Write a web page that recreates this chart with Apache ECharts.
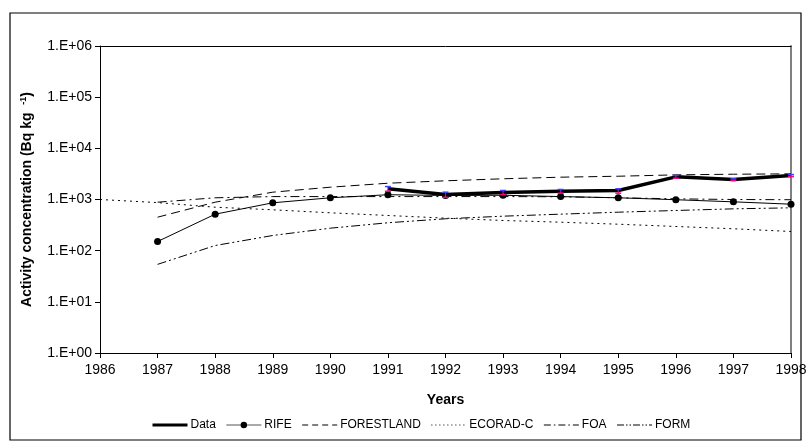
<!DOCTYPE html>
<html>
<head>
<meta charset="utf-8">
<script src="https://cdn.jsdelivr.net/npm/echarts@6/dist/echarts.min.js"></script>
<style>
  html, body { margin: 0; padding: 0; background: #fff; }
  #chart { width: 811px; height: 448px; }
</style>
</head>
<body>
<div id="chart"></div>
<script>
// Years on the horizontal axis
const years = [1986, 1987, 1988, 1989, 1990, 1991, 1992, 1993, 1994, 1995, 1996, 1997, 1998];

// Measured activity (1991-1998) with upper / lower error limits
const dataYears = [1991, 1992, 1993, 1994, 1995, 1996, 1997, 1998];
const dataValues = [1620, 1250, 1370, 1450, 1500, 2770, 2450, 2950];
const dataHigh = [1790, 1390, 1500, 1570, 1620, 2950, 2540, 3070];
const dataLow = [1450, 1100, 1250, 1330, 1330, 2600, 2350, 2810];

// Model predictions
const modelYears = [1987, 1988, 1989, 1990, 1991, 1992, 1993, 1994, 1995, 1996, 1997, 1998];
const rifeValues = [151, 516, 862, 1080, 1240, 1200, 1210, 1140, 1080, 990, 900, 810];
const forestlandValues = [451, 886, 1390, 1740, 2080, 2320, 2540, 2730, 2850, 3030, 3120, 3170];
const ecoradYears = [1986, 1987, 1988, 1989, 1990, 1991, 1992, 1993, 1994, 1995, 1996, 1997, 1998];
const ecoradValues = [1000, 870, 707, 629, 550, 487, 432, 389, 360, 329, 297, 268, 237];
const foaValues = [886, 1080, 1140, 1140, 1140, 1140, 1140, 1130, 1080, 1030, 1000, 990];
const formValues = [54, 126, 198, 275, 351, 420, 472, 517, 565, 610, 657, 688];

// Y tick labels (log scale, Excel-style scientific notation)
const yTickLabels = ['1.E+00', '1.E+01', '1.E+02', '1.E+03', '1.E+04', '1.E+05', '1.E+06'];

const pairs = (xs, ys) => xs.map((x, i) => [x, ys[i]]);
const FONT = 'Liberation Sans, Arial, sans-serif';

const chart = echarts.init(document.getElementById('chart'), null, { renderer: 'canvas' });

const errorData = dataYears.map((y, i) => [y, dataValues[i], dataHigh[i], dataLow[i]]);

// legend entries: only RIFE shows a marker on its key line
const lineOnly = (name, width, type) => ({
  name,
  itemStyle: { opacity: 0 },
  lineStyle: { width, color: '#000', type }
});

const option = {
  backgroundColor: '#fff',
  animation: false,
  textStyle: { fontFamily: FONT, color: '#000' },
  graphic: [{
    type: 'rect',
    shape: { x: 10, y: 13, width: 791, height: 427 },
    style: { fill: 'none', stroke: '#000', lineWidth: 1.2 },
    silent: true
  }],
  grid: { left: 100, right: 20, top: 46, bottom: 95, containLabel: false },
  legend: {
    left: 146,
    top: 414,
    itemWidth: 35,
    itemHeight: 8,
    itemGap: 10,
    textStyle: { fontFamily: FONT, fontSize: 12, color: '#000', padding: [0, 0, 0, -2] },
    data: [
      lineOnly('Data', 3, 'solid'),
      { name: 'RIFE', lineStyle: { width: 1, color: '#555', type: 'solid' }, itemStyle: { color: '#000' } },
      lineOnly('FORESTLAND', 1, [6, 4]),
      lineOnly('ECORAD-C', 1, [1, 3]),
      lineOnly('FOA', 1, [7, 3, 1.5, 3]),
      lineOnly('FORM', 1, [7, 2, 1.5, 2, 1.5, 2])
    ]
  },
  xAxis: [{
    type: 'value',
    min: 1986, max: 1998, interval: 1,
    name: 'Years',
    nameLocation: 'middle',
    nameGap: 40,
    nameTextStyle: { fontFamily: FONT, fontSize: 14, fontWeight: 'bold', color: '#000' },
    axisLine: { show: true, lineStyle: { color: '#000', width: 1 } },
    axisTick: { show: true, length: 5, lineStyle: { color: '#000' } },
    axisLabel: { fontFamily: FONT, fontSize: 14, color: '#000', margin: 10, formatter: v => String(v) },
    splitLine: { show: false }
  }, {
    type: 'value', position: 'top', min: 1986, max: 1998,
    axisLine: { show: true, lineStyle: { color: '#000', width: 1 } },
    axisTick: { show: false }, axisLabel: { show: false }, splitLine: { show: false }
  }],
  yAxis: [{
    type: 'log',
    logBase: 10,
    min: 1, max: 1e6,
    name: 'Activity concentration (Bq kg  {sup|-1})',
    nameLocation: 'middle',
    nameGap: 64,
    nameRotate: 90,
    nameTextStyle: {
      fontFamily: FONT, fontSize: 14, fontWeight: 'bold', color: '#000',
      rich: { sup: { fontFamily: FONT, fontSize: 9, fontWeight: 'bold', color: '#000', verticalAlign: 'top', padding: [0, 0, 8, 0] } }
    },
    axisLine: { show: true, lineStyle: { color: '#000', width: 1 } },
    axisTick: { show: true, length: 5, lineStyle: { color: '#000' } },
    axisLabel: {
      fontFamily: FONT, fontSize: 14, color: '#000', margin: 8,
      formatter: v => yTickLabels[Math.round(Math.log10(v))]
    },
    splitLine: { show: false }
  }, {
    type: 'log', position: 'right', min: 1, max: 1e6,
    axisLine: { show: true, lineStyle: { color: '#808080', width: 2 } },
    axisTick: { show: false }, axisLabel: { show: false }, splitLine: { show: false }
  }],
  series: [
    {
      name: 'Data', type: 'line', data: pairs(dataYears, dataValues),
      symbol: 'none', z: 5,
      lineStyle: { color: '#000', width: 3.5 },
      itemStyle: { color: '#000' }
    },
    {
      name: 'RIFE', type: 'line', data: pairs(modelYears, rifeValues),
      symbol: 'circle', symbolSize: 7,
      lineStyle: { color: '#000', width: 1 },
      itemStyle: { color: '#000' }
    },
    {
      name: 'FORESTLAND', type: 'line', data: pairs(modelYears, forestlandValues),
      symbol: 'none',
      lineStyle: { color: '#000', width: 1, type: [9, 5] },
      itemStyle: { color: '#000' }
    },
    {
      name: 'ECORAD-C', type: 'line', data: pairs(ecoradYears, ecoradValues),
      symbol: 'none',
      lineStyle: { color: '#000', width: 1, type: [2, 4] },
      itemStyle: { color: '#000' }
    },
    {
      name: 'FOA', type: 'line', data: pairs(modelYears, foaValues),
      symbol: 'none',
      lineStyle: { color: '#000', width: 1, type: [9, 4, 2, 4] },
      itemStyle: { color: '#000' }
    },
    {
      name: 'FORM', type: 'line', data: pairs(modelYears, formValues),
      symbol: 'none',
      lineStyle: { color: '#000', width: 1, type: [9, 3, 2, 3, 2, 3] },
      itemStyle: { color: '#000' }
    },
    {
      // error bars: upper half blue, lower half magenta
      name: 'errors', type: 'custom', z: 6,
      data: errorData,
      renderItem: (params, api) => {
        const x = api.value(0);
        const mid = api.coord([x, api.value(1)]);
        const hi = api.coord([x, api.value(2)]);
        const lo = api.coord([x, api.value(3)]);
        const w = 3;
        return {
          type: 'group',
          children: [
            { type: 'line', shape: { x1: mid[0], y1: mid[1], x2: hi[0], y2: hi[1] }, style: { stroke: '#4040ff', lineWidth: 1.2 } },
            { type: 'line', shape: { x1: hi[0] - w, y1: hi[1], x2: hi[0] + w, y2: hi[1] }, style: { stroke: '#4040ff', lineWidth: 1.5 } },
            { type: 'line', shape: { x1: mid[0], y1: mid[1], x2: lo[0], y2: lo[1] }, style: { stroke: '#ff0080', lineWidth: 1.2 } },
            { type: 'line', shape: { x1: lo[0] - w, y1: lo[1], x2: lo[0] + w, y2: lo[1] }, style: { stroke: '#ff0080', lineWidth: 1.5 } }
          ]
        };
      }
    }
  ]
};

chart.setOption(option);
</script>
</body>
</html>
